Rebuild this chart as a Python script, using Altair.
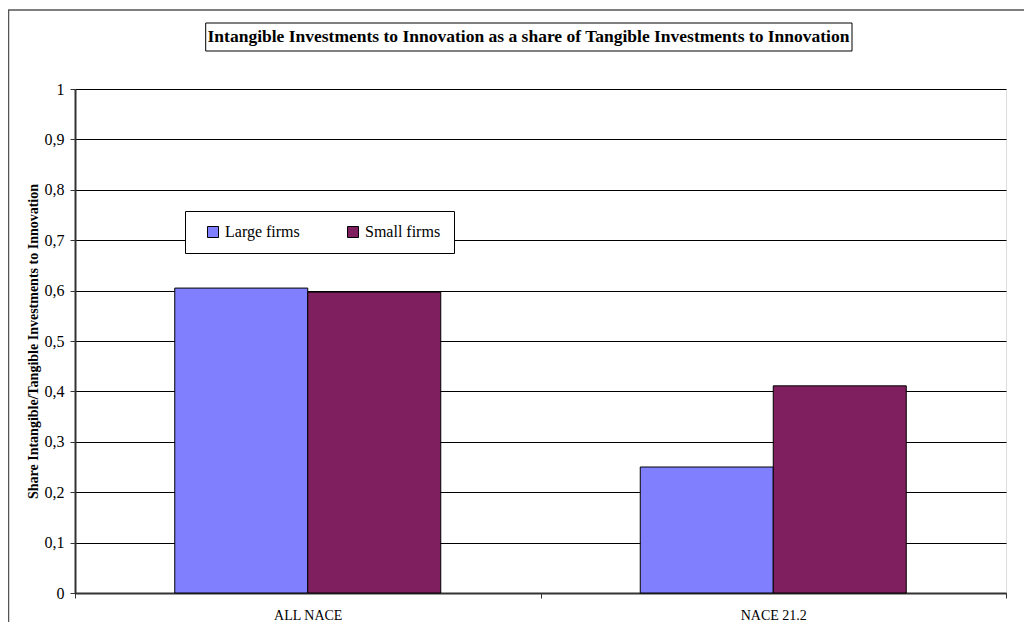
import altair as alt
import pandas as pd

categories = ["ALL NACE", "NACE 21.2"]
series = ["Large firms", "Small firms"]
large_values = [0.605, 0.25]
small_values = [0.597, 0.411]
y_ticks = [0, 0.1, 0.2, 0.3, 0.4, 0.5, 0.6, 0.7, 0.8, 0.9, 1]
colors = ["#8080FF", "#7F1F5F"]
title_text = ["Intangible Investments to Innovation as  a share of Tangible Investments to Innovation"]
y_title = "Share Intangible/Tangible Investments to Innovation"

rows = []
for i, c in enumerate(categories):
    rows.append({"cat": c, "series": series[0], "value": large_values[i]})
    rows.append({"cat": c, "series": series[1], "value": small_values[i]})
df = pd.DataFrame(rows)

W, H = 931, 504
FONT = "Liberation Serif"

bars = alt.Chart(df).mark_bar(stroke="black", strokeWidth=1).encode(
    x=alt.X(
        "cat:N", sort=categories,
        scale=alt.Scale(paddingInner=0, paddingOuter=0),
        axis=alt.Axis(title=None, tickBand="extent", labelAngle=0, labelFont=FONT,
                      labelFontSize=14, labelColor="black", labelPadding=10, tickSize=5,
                      tickColor="#333", domainColor="#333", domainWidth=2, grid=False),
    ),
    xOffset=alt.XOffset("series:N", sort=series,
                        scale=alt.Scale(paddingInner=0, paddingOuter=0.75)),
    y=alt.Y(
        "value:Q", scale=alt.Scale(domain=[0, 1], nice=False),
        axis=alt.Axis(values=y_ticks, title=y_title, titleFont=FONT, titleFontSize=14,
                      titleFontWeight="bold", titleColor="black", titleX=-42, titleY=H / 2,
                      titleBaseline="middle", titleAngle=270,
                      labelFont=FONT, labelFontSize=16, labelColor="black", labelPadding=6,
                      tickSize=5, tickColor="#333", domainColor="#333", domainWidth=2,
                      gridColor="black", gridWidth=1,
                      labelExpr="datum.value == 0 ? '0' : datum.value == 1 ? '1' : replace(format(datum.value, '.1f'), '.', ',')"),
    ),
    color=alt.Color(
        "series:N", sort=series,
        scale=alt.Scale(domain=series, range=colors),
        legend=alt.Legend(title=None, orient="none", legendX=110, legendY=122,
                          direction="horizontal", strokeColor="black", fillColor="white",
                          padding=13, symbolOffset=7, symbolType="square", symbolSize=121,
                          symbolStrokeColor="black", symbolStrokeWidth=1,
                          labelFont=FONT, labelFontSize=16, labelColor="black",
                          labelOffset=4, columnPadding=38),
    ),
)

dummy = pd.DataFrame({"k": [0]})

frame = alt.Chart(dummy).mark_rect(fill=None, stroke="#555", strokeWidth=1.5).encode(
    x=alt.value(-66.5), x2=alt.value(W + 120), y=alt.value(-79), y2=alt.value(H + 120)
)

title_box = alt.Chart(dummy).mark_rect(fill="white", stroke="black", strokeWidth=1).encode(
    x=alt.value(130.7), x2=alt.value(777), y=alt.value(-66), y2=alt.value(-38)
)

title = alt.Chart(pd.DataFrame({"t": title_text})).mark_text(
    font=FONT, fontSize=17.5, fontWeight="bold", color="black", baseline="middle", align="center"
).encode(x=alt.value(453.5), y=alt.value(-52), text="t:N")

chart = alt.layer(frame, title_box, title, bars).properties(
    width=W, height=H, autosize="none",
    padding={"left": 67, "top": 81, "right": 18, "bottom": 29},
).configure_view(stroke="black", strokeWidth=1).configure(background="white")

chart.save("out.html", embed_options={"renderer": "svg", "actions": False})
